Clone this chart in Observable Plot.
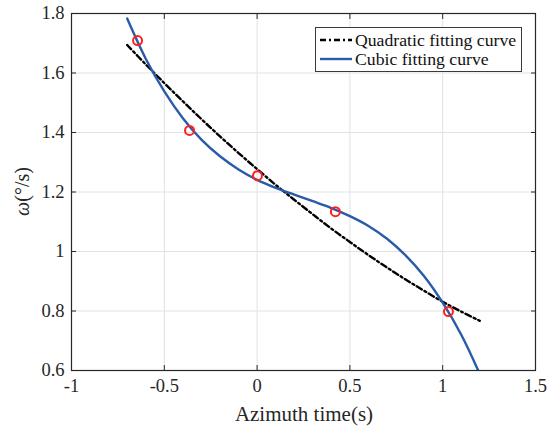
<!DOCTYPE html>
<html>
<head>
<meta charset="utf-8">
<script src="https://cdn.jsdelivr.net/npm/d3@7"></script>
<script src="https://cdn.jsdelivr.net/npm/@observablehq/plot@0.6"></script>
<style>
  body { margin: 0; background: #fff; }
  #wrap { position: relative; width: 558px; height: 430px; font-family: "Liberation Serif", Tinos, "Times New Roman", Times, "DejaVu Serif", serif; }
  #legend { position: absolute; left: 315px; top: 27px; width: 205px; height: 43px; border: 1px solid #3a3a3a; background: #fff; font-size: 17.7px; color: #111; }
  .row { position: absolute; left: 3px; height: 20px; display: flex; align-items: center; white-space: nowrap; }
  .row svg { margin-right: 2px; }
  #wrap svg text { font-family: "Liberation Serif", Tinos, "Times New Roman", Times, "DejaVu Serif", serif; }
</style>
</head>
<body>
<div id="wrap"><div id="chart"></div>
  <div id="legend"></div>
</div>
<script>
// ---- data ----
const xTicks = [-1, -0.5, 0, 0.5, 1, 1.5];
const yTicks = [0.6, 0.8, 1, 1.2, 1.4, 1.6, 1.8];

const sampleTime  = [-0.644, -0.364, 0.002, 0.422, 1.031];
const sampleOmega = [1.709, 1.407, 1.255, 1.134, 0.798];

const curveTime  = [-0.7, -0.6, -0.5, -0.4, -0.3, -0.2, -0.1, 0, 0.1, 0.2, 0.3, 0.4, 0.5, 0.6, 0.7, 0.8, 0.9, 1.0, 1.1, 1.2];
const quadOmega  = [1.694, 1.629, 1.566, 1.505, 1.445, 1.387, 1.331, 1.277, 1.224, 1.174, 1.125, 1.077, 1.032, 0.988, 0.946, 0.906, 0.868, 0.831, 0.798, 0.767];
const cubicOmega = [1.783, 1.648, 1.538, 1.448, 1.376, 1.320, 1.276, 1.241, 1.214, 1.191, 1.169, 1.146, 1.119, 1.086, 1.043, 0.987, 0.917, 0.828, 0.720, 0.588];

const legendLabels = ["Quadratic fitting curve", "Cubic fitting curve"];
const yLabelSymbol = "ω";
const yLabelUnit = "(°/s)";
const xLabel = "Azimuth time(s)";

// ---- tables ----
const samples = sampleTime.map((t, i) => ({t, w: sampleOmega[i]}));
const curves = curveTime.map((t, i) => ({t, q: quadOmega[i], c: cubicOmega[i]}));

const blue = "#2a5ba8";
const dashDot = "6,3,2,3";
const fmt = d => String(d);
const serif = "'Liberation Serif', Tinos, 'Times New Roman', Times, 'DejaVu Serif', serif";

const chart = Plot.plot({
  width: 558,
  height: 430,
  marginLeft: 71,
  marginRight: 23,
  marginTop: 13,
  marginBottom: 60,
  style: {fontFamily: serif, fontSize: "18.5px", color: "#262626", background: "#fff", overflow: "visible"},
  x: {domain: [-1, 1.5]},
  y: {domain: [0.6, 1.8]},
  marks: [
    Plot.gridX(xTicks, {stroke: "#e2e2e2", strokeOpacity: 1}),
    Plot.gridY(yTicks, {stroke: "#e2e2e2", strokeOpacity: 1}),
    Plot.line(curves, {x: "t", y: "q", stroke: "#000", strokeWidth: 2.4, strokeDasharray: dashDot, curve: "catmull-rom"}),
    Plot.line(curves, {x: "t", y: "c", stroke: blue, strokeWidth: 2.4, curve: "catmull-rom", clip: true}),
    Plot.dot(samples, {x: "t", y: "w", r: 4.5, stroke: "#ff1f1f", strokeWidth: 2, fill: "none"}),
    Plot.frame({stroke: "#262626", strokeWidth: 1.2}),
    Plot.axisX(xTicks, {anchor: "bottom", tickSize: -5, tickPadding: 13, tickFormat: fmt, label: null, fontSize: 18.5}),
    Plot.axisX(xTicks, {anchor: "top", tickSize: -5, tickFormat: () => "", label: null}),
    Plot.axisY(yTicks, {anchor: "left", tickSize: -5, tickPadding: 12, tickFormat: fmt, label: null, fontSize: 18.5}),
    Plot.axisY(yTicks, {anchor: "right", tickSize: -5, tickFormat: () => "", label: null})
  ]
});
document.getElementById("chart").appendChild(chart);

// axis titles
const svg = d3.select(chart);
svg.append("text")
  .attr("x", 304).attr("y", 421)
  .attr("text-anchor", "middle")
  .attr("font-size", 21)
  .attr("fill", "#262626")
  .text(xLabel);
const yl = svg.append("text")
  .attr("transform", "translate(29,191.5) rotate(-90)")
  .attr("text-anchor", "middle")
  .attr("font-size", 20)
  .attr("fill", "#262626");
yl.append("tspan").attr("font-style", "italic").text(yLabelSymbol);
yl.append("tspan").text(yLabelUnit);

// legend
const legend = d3.select("#legend");
const styles = [{stroke: "#000", dash: dashDot, w: 2.4}, {stroke: blue, dash: null, w: 2.4}];
legendLabels.forEach((lab, i) => {
  const row = legend.append("div").attr("class", "row").style("top", (i === 0 ? 2 : 21) + "px");
  const s = row.append("svg").attr("width", 34).attr("height", 20);
  s.append("line").attr("x1", 1).attr("x2", 33).attr("y1", 10).attr("y2", 10)
    .attr("stroke", styles[i].stroke).attr("stroke-width", styles[i].w)
    .attr("stroke-dasharray", styles[i].dash);
  row.append("span").text(lab);
});
</script>
</body>
</html>
